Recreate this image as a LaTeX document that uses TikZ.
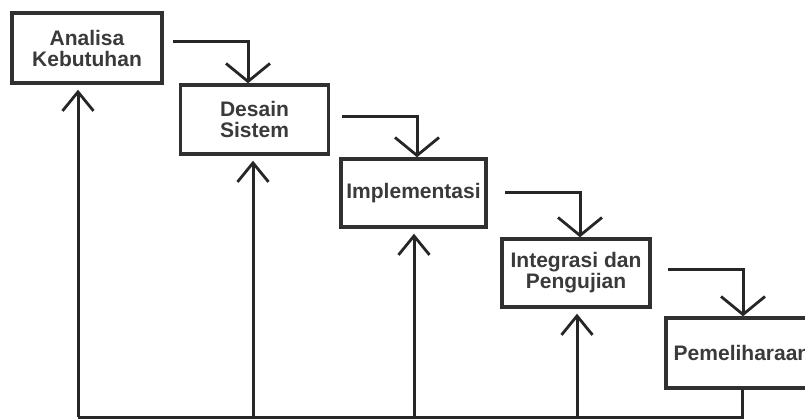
\documentclass[tikz,border=0pt]{standalone}
\usepackage{fontspec}
\setmainfont{Liberation Sans}
\usetikzlibrary{arrows.meta}
\definecolor{boxline}{HTML}{303030}
\definecolor{txt}{HTML}{3A3A3A}
\begin{document}
\begin{tikzpicture}[x=1pt,y=-1pt,
  stage/.style={draw=boxline,line width=3.4pt,fill=white,minimum width=148pt,
    minimum height=69pt,inner sep=0pt,align=center,text=txt,
    font=\fontsize{21}{21}\selectfont\bfseries},
  flow/.style={draw=black!85,line width=3pt},
  downarrow/.style={flow,-{Straight Barb[length=18pt,width=44pt,line width=2.8pt]}},
  uparrow/.style={flow,-{Straight Barb[length=19pt,width=31pt,line width=2.8pt]},shorten >=5pt}]
\useasboundingbox (0,0) rectangle (805,419);
\clip (0,0) rectangle (805,419);

% the five stages
\node[stage,minimum width=150pt,minimum height=70pt] (B1) at (87,48) {Analisa\\Kebutuhan};
\node[stage] (B2) at (254.5,119.5) {Desain\\Sistem};
\node[stage,minimum width=145pt,minimum height=68pt] (B3) at (413.5,193) {Implementasi};
\node[stage,minimum height=68pt] (B4) at (576,273) {Integrasi dan\\Pengujian};
\node[stage,minimum width=152pt,minimum height=70pt] (B5) at (742,353) {Pemeliharaan};

% forward (cascade) connectors
\coordinate (s1) at (173,42);  \coordinate (k1) at (248,42);
\coordinate (s2) at (342,117); \coordinate (k2) at (417,117);
\coordinate (s3) at (505,193); \coordinate (k3) at (580,193);
\coordinate (s4) at (668,270); \coordinate (k4) at (743,270);
\draw[downarrow] (s1) -- (k1) -- (k1 |- B2.north);
\draw[downarrow] (s2) -- (k2) -- (k2 |- B3.north);
\draw[downarrow] (s3) -- (k3) -- (k3 |- B4.north);
\draw[downarrow] (s4) -- (k4) -- (k4 |- B5.north);

% feedback line along the bottom
\coordinate (f1) at (78,417);
\coordinate (f2) at (253,417);
\coordinate (f3) at (414,417);
\coordinate (f4) at (577,417);
\coordinate (f5) at (742,417);
\draw[flow] (B5.south) -- (f5) -- (f1);
\draw[uparrow] (f1) -- (f1 |- B1.south);
\draw[uparrow] (f2) -- (f2 |- B2.south);
\draw[uparrow] (f3) -- (f3 |- B3.south);
\draw[uparrow] (f4) -- (f4 |- B4.south);
\end{tikzpicture}
\end{document}
